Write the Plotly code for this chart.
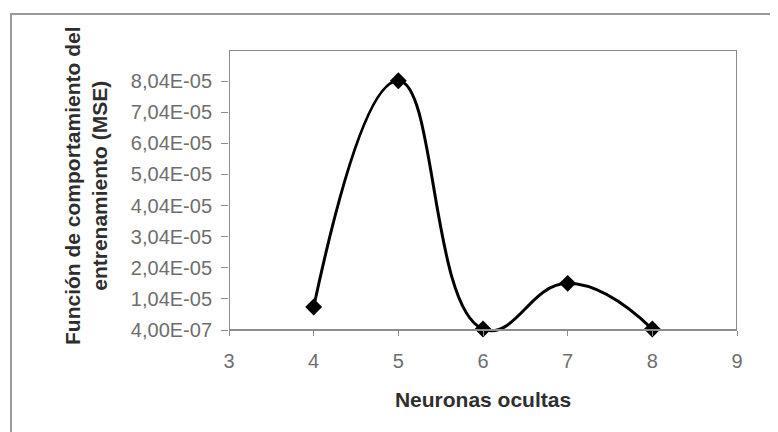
import plotly.graph_objects as go

neuronas = [4, 5, 6, 7, 8]
mse = [7.8e-6, 8.05e-5, 7e-7, 1.54e-5, 7e-7]
y_ticks = [4.0e-7, 1.04e-5, 2.04e-5, 3.04e-5, 4.04e-5, 5.04e-5, 6.04e-5, 7.04e-5, 8.04e-5]
y_tick_labels = ["4,00E-07", "1,04E-05", "2,04E-05", "3,04E-05", "4,04E-05",
                 "5,04E-05", "6,04E-05", "7,04E-05", "8,04E-05"]
x_ticks = [3, 4, 5, 6, 7, 8, 9]
x_min, x_max = 3, 9
y_axis_min, y_max = 4.0e-7, 9.04e-5
x_title = "Neuronas ocultas"
y_title = "Función de comportamiento del<br>entrenamiento (MSE)"

# page is offset by the 8px body margin; sizes below are in figure px
W, H = 778, 432
L, T = 221, 42
plot_w, axis_h, extra = 508, 280, 14
plot_h = axis_h + extra
R = W - L - plot_w
B = H - T - plot_h
y_min = y_axis_min - (y_max - y_axis_min) * extra / axis_h

grey = "#8c8c8c"
font = "Liberation Sans, Arial, sans-serif"

fig = go.Figure()
fig.add_trace(go.Scatter(
    x=neuronas, y=mse, mode="lines+markers",
    line=dict(color="black", width=3, shape="spline", smoothing=1.3),
    marker=dict(symbol="diamond", size=13, color="black"),
    cliponaxis=False, showlegend=False,
))

fig.update_layout(
    width=W, height=H,
    margin=dict(l=L, r=R, t=T, b=B),
    paper_bgcolor="white", plot_bgcolor="white",
    font=dict(family=font),
    xaxis=dict(
        range=[x_min, x_max], tickvals=x_ticks, ticktext=[str(v) for v in x_ticks],
        anchor="free", position=extra / plot_h,
        showgrid=False, zeroline=False, showline=True, linecolor=grey, linewidth=2,
        ticks="outside", ticklen=5, tickcolor=grey, ticklabelstandoff=8,
        tickfont=dict(size=20, color="#6e6e6e"),
        title=dict(text="<b>" + x_title + "</b>", font=dict(size=21, color="#2e2e2e"), standoff=20),
    ),
    yaxis=dict(
        range=[y_min, y_max], tickvals=y_ticks, ticktext=y_tick_labels,
        showgrid=False, zeroline=False, showline=False,
        ticks="outside", ticklen=7, tickcolor=grey, ticklabelstandoff=5,
        tickfont=dict(size=20, color="#6e6e6e"),
    ),
)

# y axis title as a rotated annotation, centred where the original has it
fig.add_annotation(
    text="<b>" + y_title + "</b>", textangle=-90, showarrow=False,
    xref="paper", yref="paper", xanchor="center", yanchor="middle",
    x=(78 - L) / plot_w, y=1 - (178 - T) / plot_h,
    font=dict(size=21, color="#2e2e2e", family=font),
)

# plot frame (left, right, top) ending at the x axis line
for x0, y0, x1, y1 in [(x_min, y_axis_min, x_min, y_max), (x_max, y_axis_min, x_max, y_max),
                       (x_min, y_max, x_max, y_max)]:
    fig.add_shape(type="line", xref="x", yref="y", x0=x0, y0=y0, x1=x1, y1=y1,
                  line=dict(color=grey, width=2), layer="below")

# outer chart frame (only top and left edges visible in the crop)
fig.add_shape(type="rect", xref="paper", yref="paper",
              x0=(3 - L) / plot_w, x1=(W + 30 - L) / plot_w,
              y0=-(B + 30) / plot_h, y1=1 + (T - 6) / plot_h,
              line=dict(color="#9a9a9a", width=2), fillcolor="rgba(0,0,0,0)", layer="below")

fig.write_html("out.html")
